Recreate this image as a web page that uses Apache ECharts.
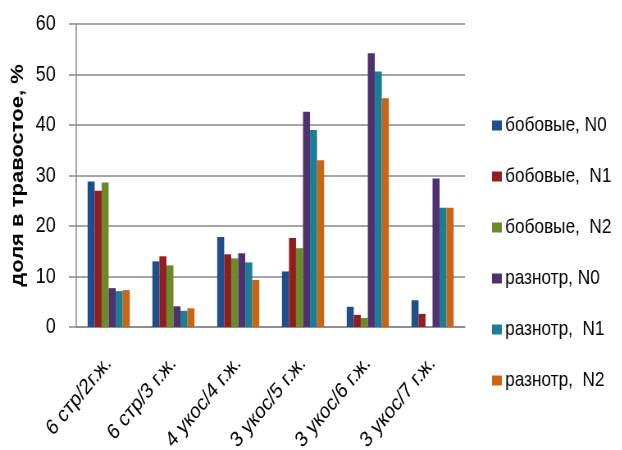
<!DOCTYPE html>
<html>
<head>
<meta charset="utf-8">
<script src="https://cdn.jsdelivr.net/npm/echarts@6/dist/echarts.min.js"></script>
<style>
  html, body { margin: 0; padding: 0; background: #fff; overflow: hidden; }
  /* The chart is laid out wider and squeezed horizontally so the text gets
     the tall, condensed look of the original figure. */
  #chart { width: 758px; height: 450px; transform: scaleX(0.82); transform-origin: 0 0; }
</style>
</head>
<body>
<div id="chart"></div>
<script>
// Categories: cutting regime / year of stand life
const categories = ['6 стр/2г.ж.', '6 стр/3 г.ж.', '4 укос/4 г.ж.', '3 укос/5 г.ж.', '3 укос/6 г.ж.', '3 укос/7 г.ж.'];

// Share in the herbage, %
const bobN0 = [28.8, 13.0, 17.8, 11.0, 4.0, 5.3];
const bobN1 = [27.0, 14.0, 14.4, 17.6, 2.4, 2.6];
const bobN2 = [28.6, 12.2, 13.6, 15.6, 1.8, null];
const razN0 = [7.7, 4.1, 14.6, 42.6, 54.2, 29.4];
const razN1 = [7.1, 3.2, 12.8, 39.0, 50.6, 23.6];
const razN2 = [7.3, 3.7, 9.3, 33.0, 45.3, 23.6];

const seriesNames = ['бобовые, N0', 'бобовые,  N1', 'бобовые,  N2', 'разнотр, N0', 'разнотр,  N1', 'разнотр,  N2'];
const seriesData = [bobN0, bobN1, bobN2, razN0, razN1, razN2];
const colors = ['#1f4e8d', '#921d1f', '#6a8b27', '#50316f', '#1b7d96', '#cb6513'];

const font = '"Liberation Sans", Arial, sans-serif';
const axisGray = '#888888';

const chart = echarts.init(document.getElementById('chart'), null, { renderer: 'canvas' });

chart.setOption({
  animation: false,
  backgroundColor: '#ffffff',
  color: colors,
  grid: { left: 93, right: 191, top: 24, bottom: 123, containLabel: false, outerBoundsMode: 'none' },
  legend: {
    orient: 'vertical',
    left: 595,
    top: 110,
    itemWidth: 12,
    itemHeight: 10,
    itemGap: 30,
    icon: 'rect',
    textStyle: { fontFamily: font, fontSize: 21, color: '#000', padding: [0, 0, 0, -1] },
    data: seriesNames
  },
  xAxis: {
    type: 'category',
    data: categories,
    axisLine: { lineStyle: { color: axisGray, width: 1.5 } },
    axisTick: { show: false },
    axisLabel: {
      rotate: 45,
      interval: 0,
      margin: 33,
      fontFamily: font,
      fontSize: 22,
      color: '#000'
    }
  },
  yAxis: {
    type: 'value',
    min: 0,
    max: 60,
    interval: 10,
    name: 'доля в травостое, %',
    nameLocation: 'middle',
    nameGap: 41,
    nameRotate: 90,
    nameTextStyle: { fontFamily: font, fontWeight: 'bold', fontSize: 22, color: '#000' },
    axisLine: { show: true, lineStyle: { color: axisGray, width: 1.5 } },
    axisTick: { show: true, length: 9, lineStyle: { color: axisGray, width: 1.5 } },
    axisLabel: { fontFamily: font, fontSize: 22, color: '#000', margin: 25 },
    splitLine: { lineStyle: { color: axisGray, width: 1.5 } }
  },
  series: seriesNames.map((name, i) => ({
    name: name,
    type: 'bar',
    data: seriesData[i],
    barGap: '0%',
    barCategoryGap: '35%',
    itemStyle: { color: colors[i] }
  }))
});
</script>
</body>
</html>
